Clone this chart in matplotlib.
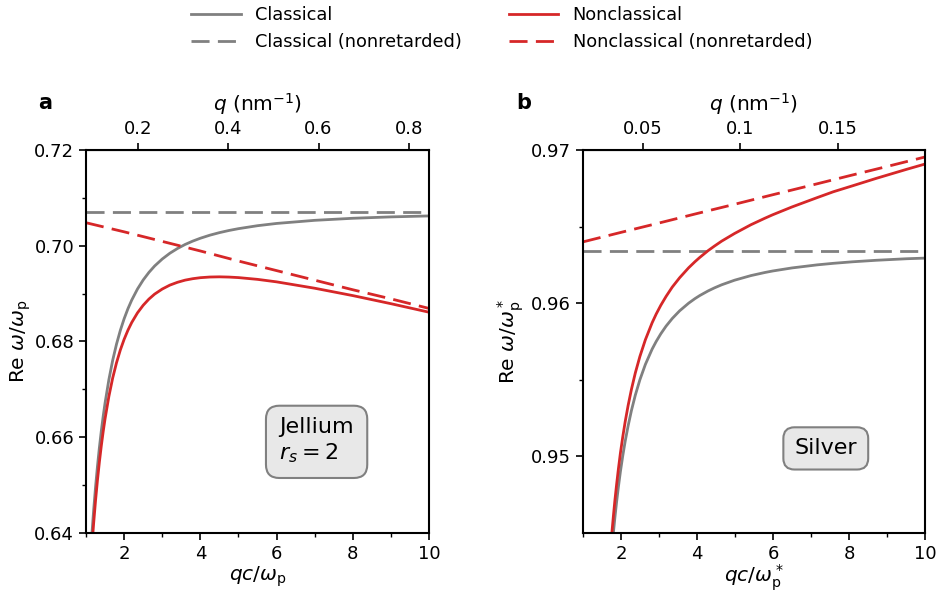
import numpy as np
import matplotlib
matplotlib.use("Agg")
import matplotlib.pyplot as plt
from matplotlib.ticker import MultipleLocator, FixedLocator, FixedFormatter, FormatStrFormatter
from matplotlib.lines import Line2D

plt.rcParams['font.size'] = 13
plt.rcParams['axes.labelsize'] = 14.5
plt.rcParams['mathtext.fontset'] = 'dejavusans'

# ---- panel a: jellium rs = 2 ----
xa = [1.12, 1.16, 1.2, 1.25, 1.3, 1.35, 1.4, 1.45, 1.5, 1.6, 1.7, 1.8, 1.9, 2.0,
      2.1, 2.2, 2.35, 2.5, 2.65, 2.8, 3.0, 3.2, 3.4, 3.6, 3.8, 4.0, 4.25, 4.5,
      4.75, 5.0, 5.5, 6.0, 7.0, 8.0, 9.0, 10.0]
cl_a = [0.63563, 0.64040, 0.64472, 0.64958, 0.65390, 0.65777, 0.66123, 0.66435,
        0.66717, 0.67203, 0.67607, 0.67944, 0.68230, 0.68474, 0.68684, 0.68865,
        0.69095, 0.69284, 0.69442, 0.69576, 0.69722, 0.69843, 0.69942, 0.70026,
        0.70096, 0.70156, 0.70220, 0.70273, 0.70318, 0.70356, 0.70418, 0.70465,
        0.70530, 0.70573, 0.70602, 0.70622]
ncl_a = [0.63308, 0.63777, 0.64201, 0.64678, 0.65100, 0.65477, 0.65813, 0.66115,
         0.66387, 0.66853, 0.67238, 0.67555, 0.67821, 0.68045, 0.68235, 0.68397,
         0.68597, 0.68756, 0.68885, 0.68989, 0.69095, 0.69177, 0.69236, 0.69281,
         0.69311, 0.69332, 0.69346, 0.69350, 0.69345, 0.69334, 0.69297, 0.69245,
         0.69112, 0.68958, 0.68789, 0.68611]
xa_nr = [1, 2, 3, 4, 5, 6, 7, 8, 9, 10]
cl_nr_a = [0.70711] * 10
ncl_nr_a = [0.7048, 0.7029, 0.7009, 0.6989, 0.6968, 0.6948, 0.6928, 0.6908, 0.6889, 0.6869]

# ---- panel b: silver ----
xb = [1.729, 1.763, 1.800, 1.840, 1.884, 1.932, 1.985, 2.045, 2.112, 2.189, 2.276,
      2.378, 2.498, 2.642, 2.820, 2.927, 3.048, 3.187, 3.350, 3.544, 3.781, 3.949,
      4.076, 4.294, 4.462, 4.651, 4.991, 5.421, 5.784, 5.993, 6.501, 7.164, 7.587,
      8.094, 8.724, 9.523, 10.0]
cl_b = [0.9430, 0.9440, 0.9450, 0.9460, 0.9470, 0.9480, 0.9490, 0.9500, 0.9510,
        0.9520, 0.9530, 0.9540, 0.9550, 0.9560, 0.9570, 0.9575, 0.9580, 0.9585,
        0.9590, 0.9595, 0.9600, 0.9603, 0.9605, 0.9608, 0.9610, 0.9612, 0.9615,
        0.9618, 0.9620, 0.9621, 0.9623, 0.9625, 0.9626, 0.9627, 0.9628, 0.9629,
        0.96294]
ncl_b = [0.94406, 0.94507, 0.94609, 0.94712, 0.94814, 0.94917, 0.95021, 0.95124,
         0.95228, 0.95333, 0.95438, 0.95545, 0.95652, 0.95761, 0.95872, 0.95929,
         0.95986, 0.96044, 0.96105, 0.96166, 0.96231, 0.96271, 0.96299, 0.96343,
         0.96373, 0.96405, 0.96455, 0.96512, 0.96554, 0.96577, 0.96628, 0.96689,
         0.96727, 0.96766, 0.96815, 0.96874, 0.96908]
xb_nr = [1, 2, 3, 4, 5, 6, 7, 8, 9, 10]
cl_nr_b = [0.9634] * 10
ncl_nr_b = [0.96400, 0.96462, 0.96523, 0.96585, 0.96646, 0.96708, 0.96769, 0.96831,
            0.96892, 0.96954]

# conversion qc/wp -> q (nm^-1)
k_a = 0.0845
k_b = 0.01945

gray = '#808080'
red = '#d62728'
lw = 2
dash = (0, (6.5, 3))

fig = plt.figure(figsize=(9.38, 5.92), dpi=100)
ax1 = fig.add_axes([0.0917, 0.0997, 0.3657, 0.6470])
ax2 = fig.add_axes([0.6215, 0.0997, 0.3646, 0.6470])

ax1.plot(xa, cl_a, color=gray, lw=lw)
ax1.plot(xa_nr, cl_nr_a, color=gray, lw=lw, ls=dash)
ax1.plot(xa, ncl_a, color=red, lw=lw)
ax1.plot(xa_nr, ncl_nr_a, color=red, lw=lw, ls=dash)
ax1.set_xlim(1, 10)
ax1.set_ylim(0.64, 0.72)
ax1.yaxis.set_major_locator(MultipleLocator(0.02))
ax1.yaxis.set_minor_locator(MultipleLocator(0.01))
ax1.yaxis.set_major_formatter(FormatStrFormatter('%.2f'))
ax1.set_xlabel(r'$qc/\omega_\mathrm{p}$', labelpad=1)
ax1.set_ylabel(r'Re $\omega/\omega_\mathrm{p}$', labelpad=1)
ax1.text(7.05, 0.6592, 'Jellium\n$r_s = 2$', ha='center', va='center', fontsize=16,
         multialignment='left',
         bbox=dict(boxstyle='round,pad=0.6', fc='#e8e8e8', ec=gray, lw=1.5))

ax2.plot(xb, cl_b, color=gray, lw=lw)
ax2.plot(xb_nr, cl_nr_b, color=gray, lw=lw, ls=dash)
ax2.plot(xb, ncl_b, color=red, lw=lw)
ax2.plot(xb_nr, ncl_nr_b, color=red, lw=lw, ls=dash)
ax2.set_xlim(1, 10)
ax2.set_ylim(0.945, 0.97)
ax2.yaxis.set_major_locator(FixedLocator([0.95, 0.96, 0.97]))
ax2.yaxis.set_minor_locator(FixedLocator([0.955, 0.965]))
ax2.yaxis.set_major_formatter(FormatStrFormatter('%.2f'))
ax2.set_xlabel(r'$qc/\omega_\mathrm{p}^*$', labelpad=0)
ax2.set_ylabel(r'Re $\omega/\omega_\mathrm{p}^*$')
ax2.text(7.39, 0.95052, 'Silver', ha='center', va='center', fontsize=16,
         bbox=dict(boxstyle='round,pad=0.5', fc='#e8e8e8', ec=gray, lw=1.5))

for ax in (ax1, ax2):
    ax.xaxis.set_major_locator(MultipleLocator(2))
    ax.xaxis.set_minor_locator(MultipleLocator(1))
    for s in ax.spines.values():
        s.set_linewidth(1.5)
    ax.tick_params(which='major', length=5, width=1.2)
    ax.tick_params(which='minor', length=3, width=1.0)

top1 = ax1.secondary_xaxis('top', functions=(lambda x: x * k_a, lambda q: q / k_a))
top1.xaxis.set_major_locator(FixedLocator([0.2, 0.4, 0.6, 0.8]))
top1.xaxis.set_major_formatter(FixedFormatter(['0.2', '0.4', '0.6', '0.8']))
top1.set_xlabel(r'$q$ (nm$^{-1}$)', labelpad=7)

top2 = ax2.secondary_xaxis('top', functions=(lambda x: x * k_b, lambda q: q / k_b))
top2.xaxis.set_major_locator(FixedLocator([0.05, 0.1, 0.15]))
top2.xaxis.set_major_formatter(FixedFormatter(['0.05', '0.1', '0.15']))
top2.set_xlabel(r'$q$ (nm$^{-1}$)', labelpad=7)
for t in (top1, top2):
    t.xaxis.set_minor_locator(FixedLocator([]))
    t.tick_params(length=5, width=1.2)

fig.text(0.048, 0.826, 'a', fontsize=15, fontweight='bold', va='center', ha='center')
fig.text(0.558, 0.826, 'b', fontsize=15, fontweight='bold', va='center', ha='center')

handles = [Line2D([], [], color=gray, lw=lw),
           Line2D([], [], color=gray, lw=lw, ls=dash),
           Line2D([], [], color=red, lw=lw),
           Line2D([], [], color=red, lw=lw, ls=dash)]
labels = ['Classical', 'Classical (nonretarded)', 'Nonclassical', 'Nonclassical (nonretarded)']
fig.legend(handles, labels, ncol=2, loc='upper center', bbox_to_anchor=(0.535, 1.017),
           frameon=False, handlelength=2.8, columnspacing=2.6, labelspacing=0.5,
           fontsize=12.8)

fig.savefig('out.png', dpi=100)
